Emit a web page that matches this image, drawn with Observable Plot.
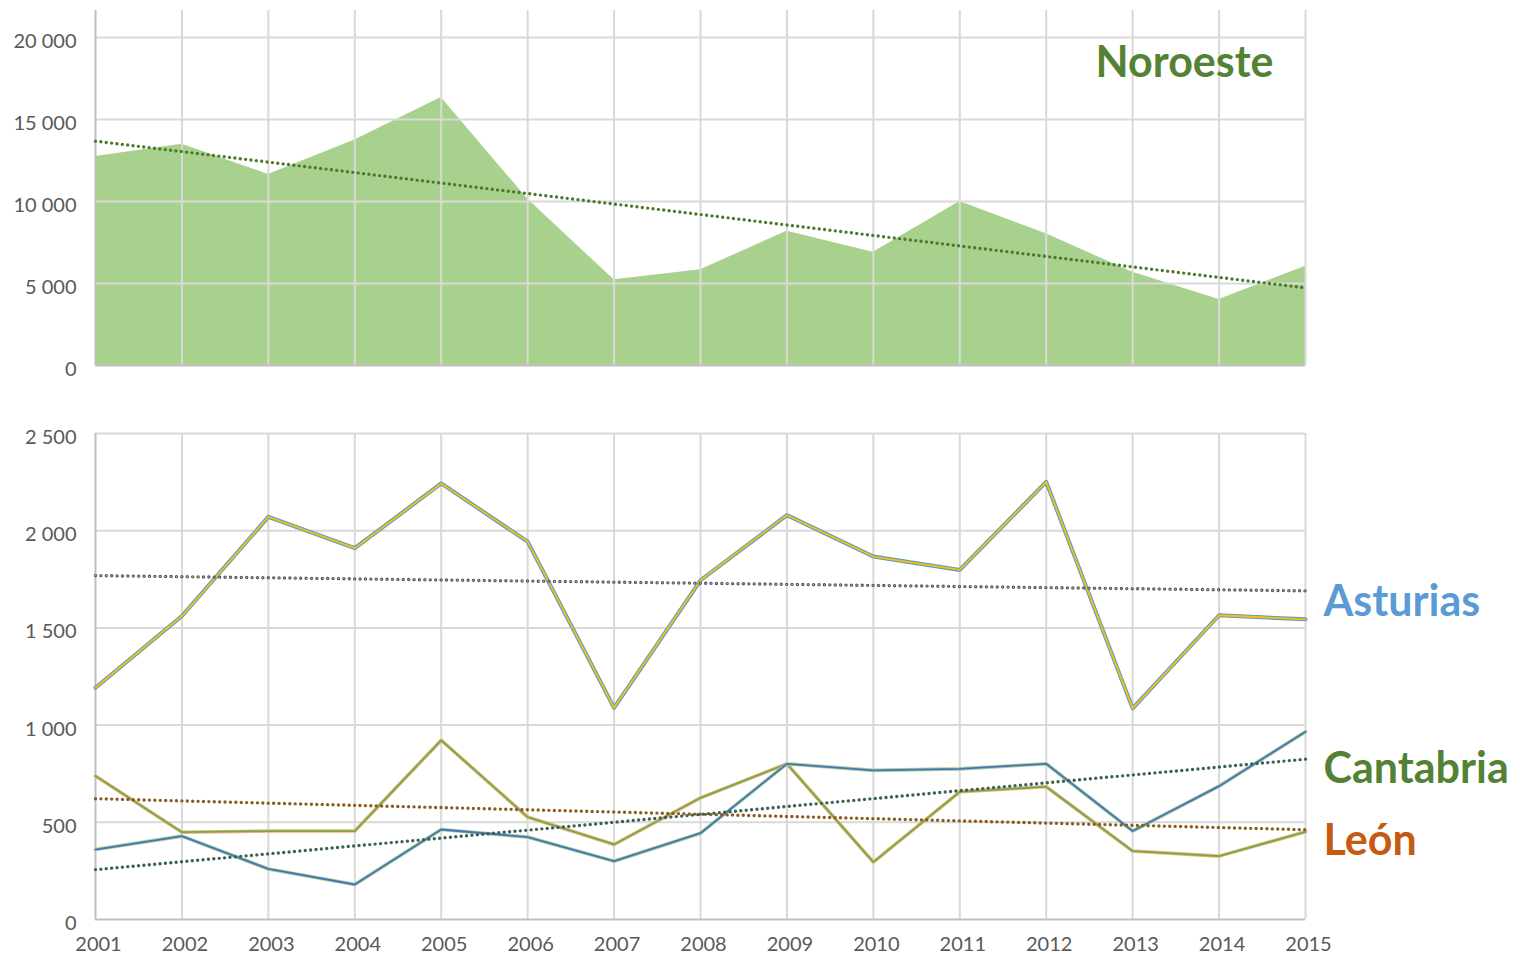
<!DOCTYPE html>
<html>
<head>
<meta charset="utf-8">
<script src="https://cdn.jsdelivr.net/npm/d3@7"></script>
<script src="https://cdn.jsdelivr.net/npm/@observablehq/plot@0.6"></script>
<style>
  html, body { margin: 0; padding: 0; background: #fff; }
  #chart svg { display: block; }
</style>
</head>
<body>
<div id="chart"></div>
<script>
const years = [2001, 2002, 2003, 2004, 2005, 2006, 2007, 2008, 2009, 2010, 2011, 2012, 2013, 2014, 2015];
const noroeste = [12750, 13500, 11650, 13750, 16350, 10150, 5225, 5835, 8190, 6910, 10000, 8030, 5690, 4024, 6055];
const asturias = [1192, 1561, 2071, 1910, 2243, 1944, 1089, 1745, 2080, 1867, 1798, 2251, 1086, 1565, 1544];
const cantabria = [360, 429, 260, 180, 463, 424, 300, 444, 801, 767, 775, 801, 455, 686, 966];
const leon = [738, 449, 455, 455, 922, 527, 386, 626, 801, 295, 657, 683, 352, 326, 451];
const topTicks = [0, 5000, 10000, 15000, 20000];
const bottomTicks = [0, 500, 1000, 1500, 2000, 2500];

const fmt = d => d3.format(",")(d).replace(/,/g, " ");
const rows = arr => years.map((year, i) => ({year, value: arr[i]}));
const dot = {strokeDasharray: "0,5.4", strokeLinecap: "round", ci: 0};
const grid = "#D9D9D9", axisLine = "#BFBFBF";
const style = {fontFamily: "Lato, 'Open Sans', sans-serif", fontSize: "20px", color: "#595959", background: "white", overflow: "visible"};

const topChart = Plot.plot({
  width: 1520, height: 375,
  marginLeft: 95, marginRight: 215, marginTop: 10, marginBottom: 10,
  style,
  x: {type: "linear", domain: [2001, 2015], axis: null},
  y: {domain: [0, 21650], axis: null},
  marks: [
    Plot.areaY(rows(noroeste), {x: "year", y: "value", fill: "#A9D18E"}),
    Plot.ruleY(topTicks.filter(d => d > 0), {stroke: grid, strokeWidth: 2}),
    Plot.ruleX(years.slice(1), {stroke: grid, strokeWidth: 2}),
    Plot.ruleX([2001], {stroke: axisLine, strokeWidth: 2}),
    Plot.ruleY([0], {stroke: axisLine, strokeWidth: 2}),
    Plot.axisY(topTicks, {tickSize: 0, tickPadding: 19, tickFormat: fmt, dy: 4, fill: "#595959", label: null}),
    Plot.linearRegressionY(rows(noroeste), {x: "year", y: "value", stroke: "#4B7A2C", strokeWidth: 3.4, ...dot}),
    Plot.text(["Noroeste"], {x: () => 2015, y: () => 18450, text: d => d, dx: -32, textAnchor: "end",
      fill: "#548235", fontSize: 43, fontWeight: "bold"})
  ]
});

const bottomChart = Plot.plot({
  width: 1520, height: 579,
  marginLeft: 95, marginRight: 215, marginTop: 58, marginBottom: 35,
  style,
  x: {type: "linear", domain: [2001, 2015], axis: null},
  y: {domain: [0, 2500], axis: null},
  marks: [
    Plot.ruleY(bottomTicks.filter(d => d > 0), {stroke: grid, strokeWidth: 2}),
    Plot.ruleX(years.slice(1), {stroke: grid, strokeWidth: 2}),
    Plot.ruleX([2001], {stroke: axisLine, strokeWidth: 2}),
    Plot.ruleY([0], {stroke: axisLine, strokeWidth: 2}),
    Plot.axisY(bottomTicks, {tickSize: 0, tickPadding: 19, tickFormat: fmt, dy: 4, fill: "#595959", label: null}),
    Plot.axisX(years, {tickSize: 0, tickPadding: 17, tickFormat: d => String(d), dx: 3, fill: "#595959", label: null}),
    // Asturias
    Plot.lineY(rows(asturias), {x: "year", y: "value", stroke: "#5B9BD5", strokeWidth: 4}),
    Plot.lineY(rows(asturias), {x: "year", y: "value", stroke: "#FFC000", strokeWidth: 1.8}),
    // León
    Plot.lineY(rows(leon), {x: "year", y: "value", stroke: "#F4B183", strokeWidth: 3.6}),
    Plot.lineY(rows(leon), {x: "year", y: "value", stroke: "#70AD47", strokeWidth: 1.8}),
    // Cantabria
    Plot.lineY(rows(cantabria), {x: "year", y: "value", stroke: "#A9D18E", strokeWidth: 3.6}),
    Plot.lineY(rows(cantabria), {x: "year", y: "value", stroke: "#4472C4", strokeWidth: 1.8}),
    // trends
    Plot.linearRegressionY(rows(asturias), {x: "year", y: "value", stroke: "#3E5778", strokeWidth: 3.4, ...dot}),
    Plot.linearRegressionY(rows(asturias), {x: "year", y: "value", stroke: "#FFC000", strokeWidth: 1.3, ...dot}),
    Plot.linearRegressionY(rows(leon), {x: "year", y: "value", stroke: "#8C5B22", strokeWidth: 3.4, ...dot}),
    Plot.linearRegressionY(rows(cantabria), {x: "year", y: "value", stroke: "#3B6150", strokeWidth: 3.4, ...dot}),
    // labels
    Plot.text(["Asturias"], {x: () => 2015, y: () => 1633, text: d => d, dx: 18, textAnchor: "start",
      fill: "#5B9BD5", fontSize: 43, fontWeight: "bold"}),
    Plot.text(["Cantabria"], {x: () => 2015, y: () => 774, text: d => d, dx: 18, textAnchor: "start",
      fill: "#548235", fontSize: 43, fontWeight: "bold"}),
    Plot.text(["León"], {x: () => 2015, y: () => 403, text: d => d, dx: 18, textAnchor: "start",
      fill: "#C55A11", fontSize: 43, fontWeight: "bold"})
  ]
});

const root = document.getElementById("chart");
root.appendChild(topChart);
root.appendChild(bottomChart);
</script>
</body>
</html>
